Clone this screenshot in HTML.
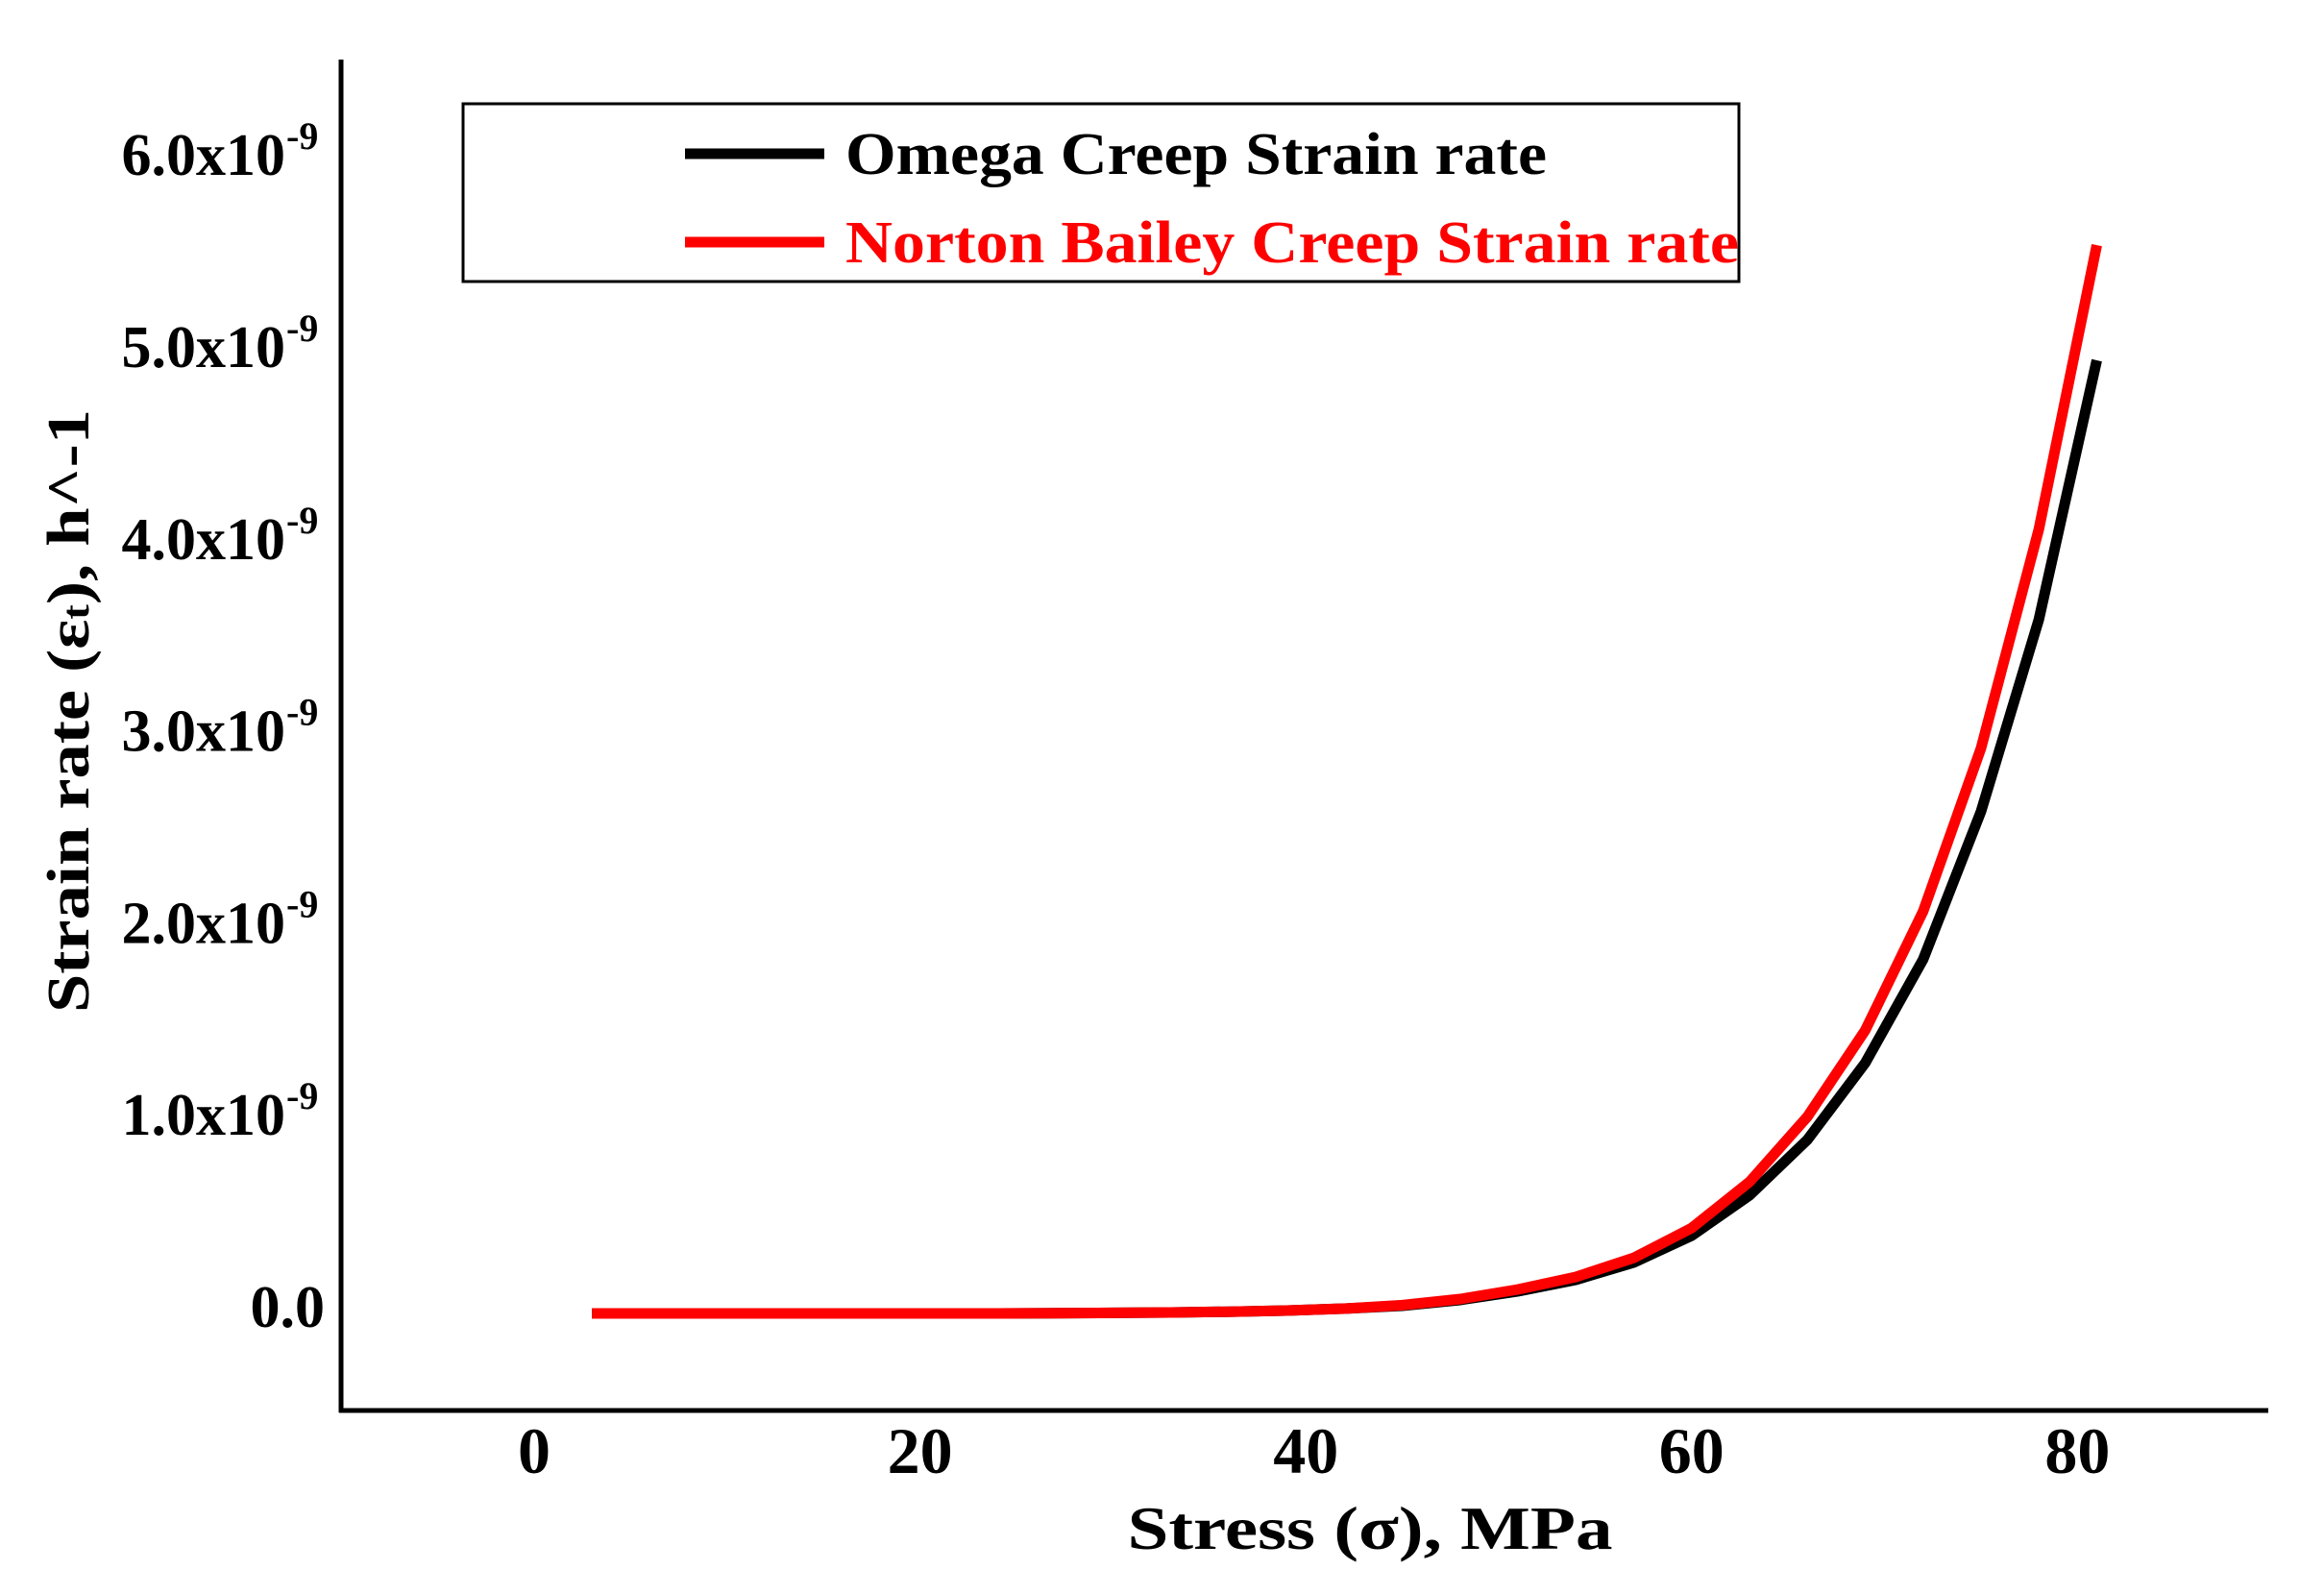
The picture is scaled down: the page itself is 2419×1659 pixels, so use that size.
<!DOCTYPE html>
<html><head><meta charset="utf-8"><style>
html,body{margin:0;padding:0;background:#fff;}
svg{display:block;font-family:"Liberation Serif",serif;font-weight:bold;}
</style></head><body>
<svg id="chart" width="2419" height="1659" viewBox="0 0 2419 1659">
<g id="axes"></g>
<g id="series"></g>
<g>
<rect x="482" y="108" width="1328" height="185" fill="#fff" stroke="#000" stroke-width="3"/>
<line x1="713" y1="160" x2="858" y2="160" stroke="#000" stroke-width="11"/>
<text x="880" y="181" font-size="62" fill="#000" textLength="730" lengthAdjust="spacingAndGlyphs">Omega Creep Strain rate</text>
<line x1="713" y1="252" x2="858" y2="252" stroke="#f00" stroke-width="11"/>
<text x="880" y="273" font-size="62" fill="#f00" textLength="930" lengthAdjust="spacingAndGlyphs">Norton Bailey Creep Strain rate</text>
</g>
<text transform="translate(92,740) rotate(-90)" text-anchor="middle" font-size="62" textLength="628" lengthAdjust="spacingAndGlyphs">Strain rate (ε<tspan font-size="40">t</tspan>),  h^-1</text>
<text x="1426" y="1612" text-anchor="middle" font-size="64" textLength="505" lengthAdjust="spacingAndGlyphs">Stress (σ),  MPa</text>
</svg>
<script>
const stress = [3,6,9,12,15,18,21,24,27,30,33,36,39,42,45,48,51,54,57,60,63,66,69,72,75,78,81];
const omegaRate = [-0.035,-0.035,-0.035,-0.035,-0.035,-0.035,-0.035,-0.035,-0.034,-0.032,-0.03,-0.026,-0.02,-0.01,0.005,0.035,0.08,0.14,0.23,0.37,0.58,0.87,1.27,1.81,2.58,3.58,4.93];
const nortonRate = [-0.035,-0.035,-0.035,-0.035,-0.035,-0.035,-0.035,-0.035,-0.034,-0.032,-0.03,-0.026,-0.02,-0.01,0.008,0.04,0.09,0.155,0.255,0.41,0.65,0.99,1.44,2.06,2.91,4.05,5.53];
const xTicks = [0,20,40,60,80];
const yTicks = [0,1,2,3,4,5,6];
const yTickLabels = ["0.0","1.0x10","2.0x10","3.0x10","4.0x10","5.0x10","6.0x10"];

const NS="http://www.w3.org/2000/svg";
function xs(v){return 556+v*20.08;}
function ys(v){return 1360-v*199.8;}
function mk(tag,attrs,parent){const e=document.createElementNS(NS,tag);for(const k in attrs)e.setAttribute(k,attrs[k]);parent.appendChild(e);return e;}
const axes=document.getElementById('axes');
const yAxis=mk('line',{x1:355,y1:62,x2:355,y2:1470,stroke:'#000','stroke-width':5},axes);


const xAxis=mk('line',{x1:353,y1:1468,x2:2361,y2:1468,stroke:'#000','stroke-width':5},axes);


xTicks.forEach(t=>{
  const e=mk('text',{x:xs(t),y:1533,'text-anchor':'middle','font-size':68},axes);
  e.textContent=t;
  
  
});
yTicks.forEach((t,i)=>{
  const e=mk('text',{x:t===0?338:297,y:ys(t)+21,'text-anchor':'end','font-size':62},axes);
  e.textContent=yTickLabels[i];
  
  
  if(t!==0){
    const s=mk('text',{x:298,y:ys(t)-6,'font-size':40},axes);
    s.textContent='-9';
    
    
  }
});
const series=document.getElementById('series');
function path(vals){return stress.map((x,i)=>(i?'L':'M')+xs(x).toFixed(1)+','+ys(vals[i]).toFixed(1)).join(' ');}
const pO=mk('path',{d:path(omegaRate),fill:'none',stroke:'#000','stroke-width':11},series);


const pN=mk('path',{d:path(nortonRate),fill:'none',stroke:'#f00','stroke-width':11},series);


</script>
</body></html>
